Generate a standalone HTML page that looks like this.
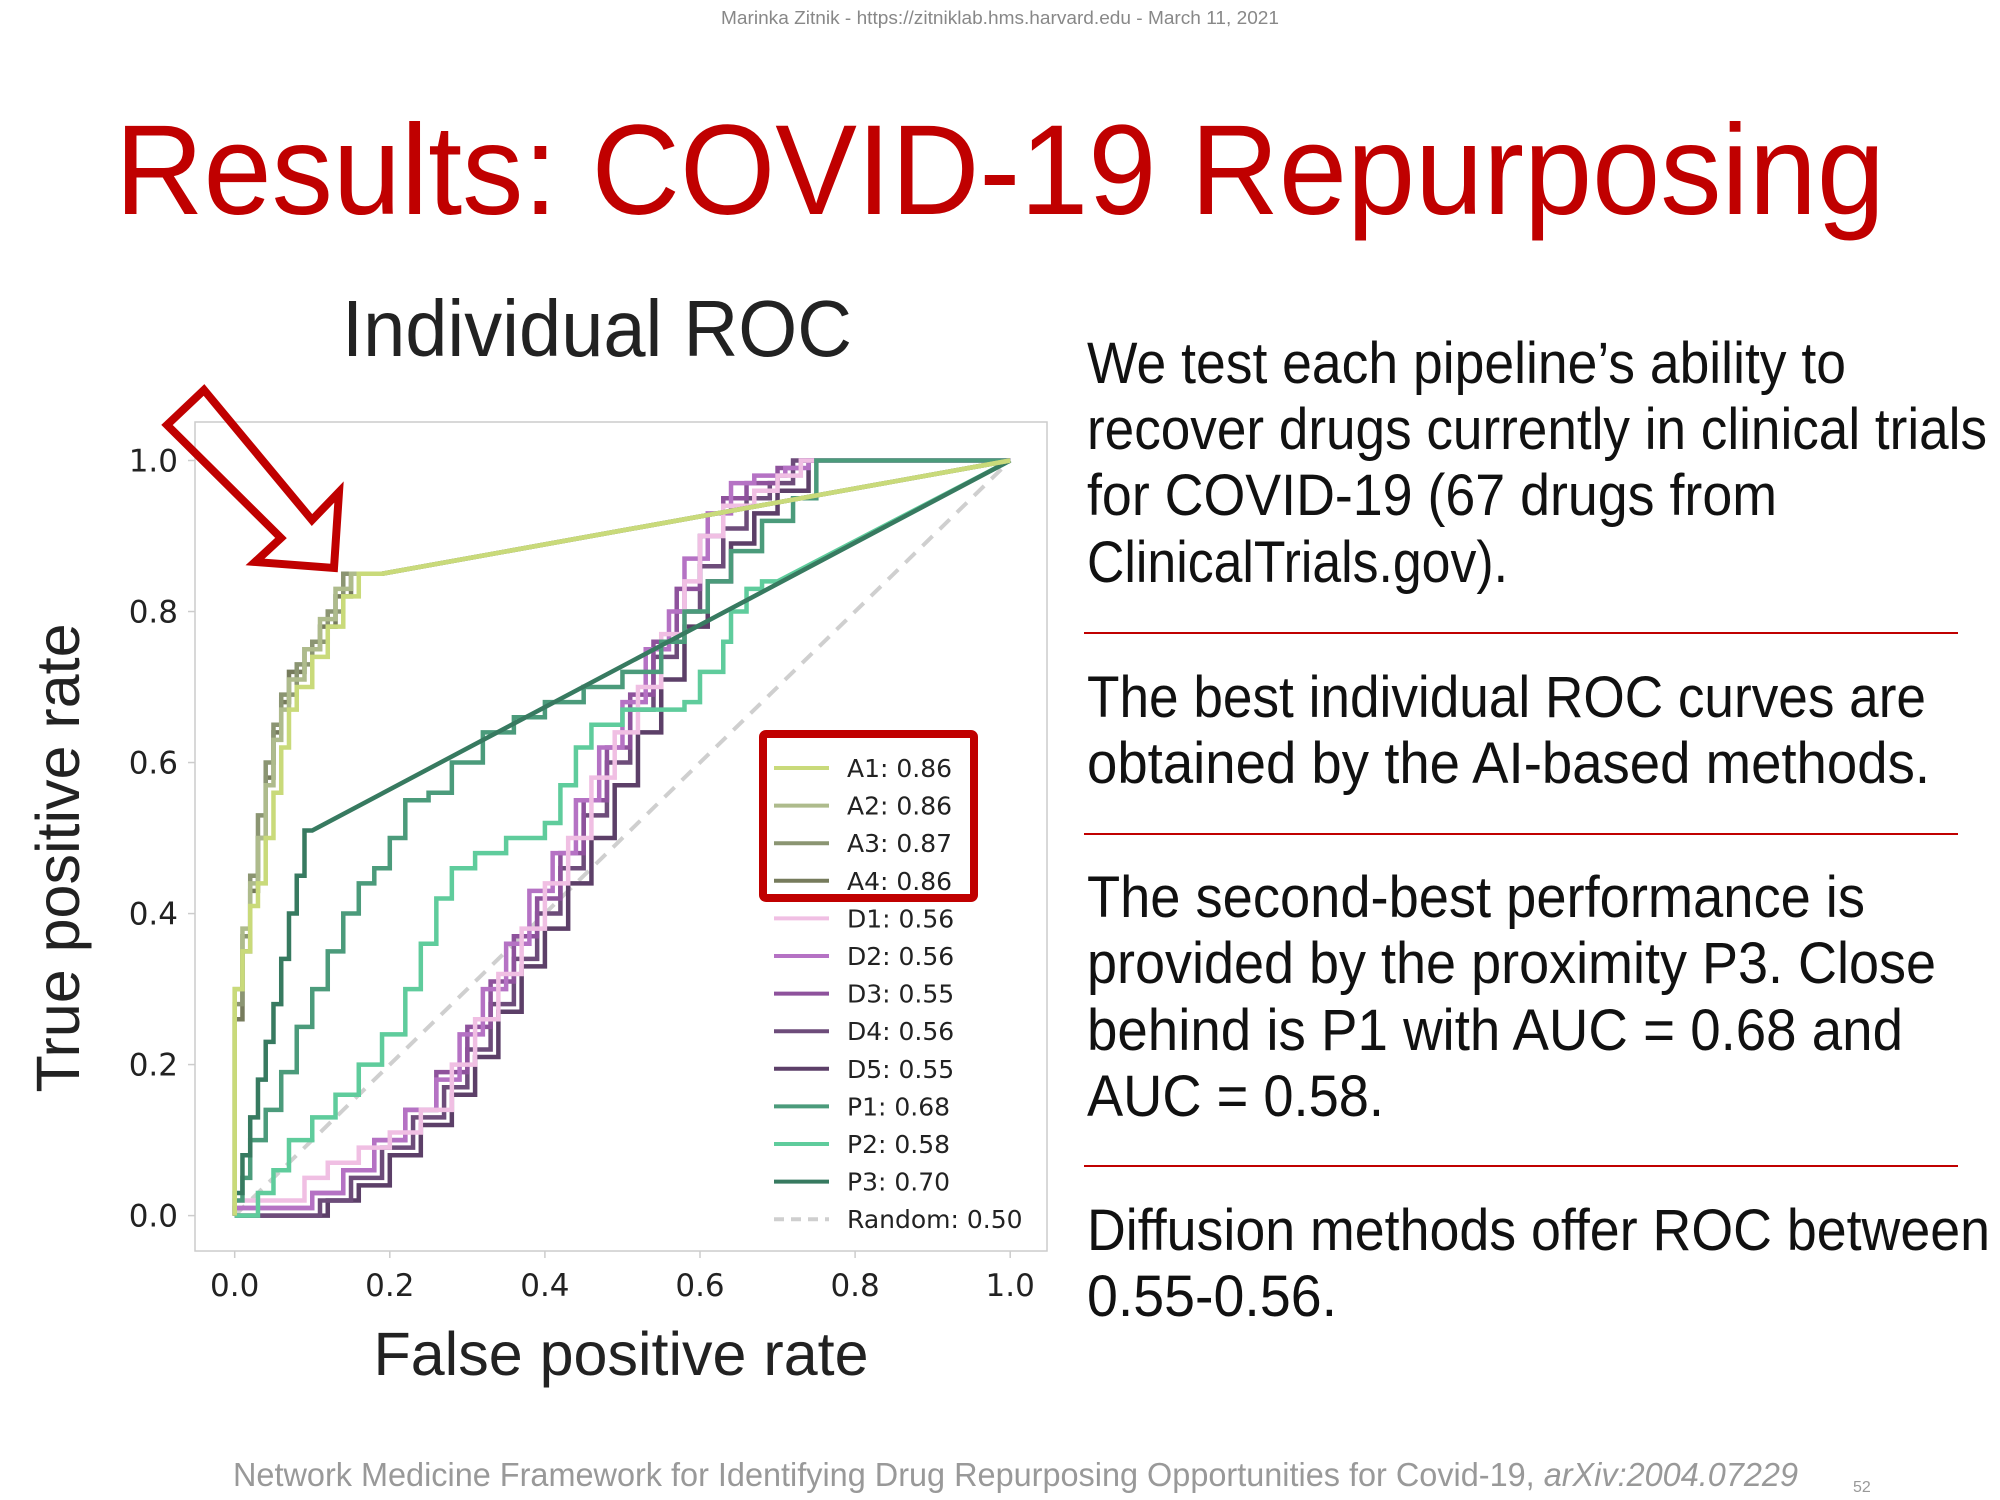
<!DOCTYPE html>
<html><head><meta charset="utf-8"><style>
html,body{margin:0;padding:0;background:#fff;}
svg{display:block;}
text{font-family:"Liberation Sans",sans-serif;}
text.dv{font-family:"DejaVu Sans",sans-serif;}
</style></head>
<body>
<svg id="slide" width="2000" height="1500" viewBox="0 0 2000 1500" xmlns="http://www.w3.org/2000/svg">
<text x="1000" y="24" font-size="18" fill="#888" text-anchor="middle" textLength="558" lengthAdjust="spacingAndGlyphs">Marinka Zitnik - https://zitniklab.hms.harvard.edu - March 11, 2021</text>
<text x="115" y="214" font-size="128" fill="#c00000" textLength="1770" lengthAdjust="spacingAndGlyphs">Results: COVID-19 Repurposing</text>
<text x="342" y="356" font-size="80" fill="#222" textLength="510" lengthAdjust="spacingAndGlyphs">Individual ROC</text>

<g font-size="58" fill="#111">
<text x="1087" y="383" textLength="759" lengthAdjust="spacingAndGlyphs">We test each pipeline’s ability to</text>
<text x="1087" y="449" textLength="900" lengthAdjust="spacingAndGlyphs">recover drugs currently in clinical trials</text>
<text x="1087" y="515" textLength="690" lengthAdjust="spacingAndGlyphs">for COVID-19 (67 drugs from</text>
<text x="1087" y="582" textLength="421" lengthAdjust="spacingAndGlyphs">ClinicalTrials.gov).</text>
<text x="1087" y="717" textLength="839" lengthAdjust="spacingAndGlyphs">The best individual ROC curves are</text>
<text x="1087" y="783" textLength="843" lengthAdjust="spacingAndGlyphs">obtained by the AI-based methods.</text>
<text x="1087" y="917" textLength="778" lengthAdjust="spacingAndGlyphs">The second-best performance is</text>
<text x="1087" y="983" textLength="849" lengthAdjust="spacingAndGlyphs">provided by the proximity P3. Close</text>
<text x="1087" y="1050" textLength="816" lengthAdjust="spacingAndGlyphs">behind is P1 with AUC = 0.68 and</text>
<text x="1087" y="1116" textLength="297" lengthAdjust="spacingAndGlyphs">AUC = 0.58.</text>
<text x="1087" y="1250" textLength="903" lengthAdjust="spacingAndGlyphs">Diffusion methods offer ROC between</text>
<text x="1087" y="1316" textLength="250" lengthAdjust="spacingAndGlyphs">0.55-0.56.</text>
</g>
<line x1="1084" y1="633" x2="1958" y2="633" stroke="#c00000" stroke-width="2"/>
<line x1="1084" y1="834" x2="1958" y2="834" stroke="#c00000" stroke-width="2"/>
<line x1="1084" y1="1166" x2="1958" y2="1166" stroke="#c00000" stroke-width="2"/>

<text x="233" y="1486" font-size="33" fill="#999" textLength="1565" lengthAdjust="spacingAndGlyphs">Network Medicine Framework for Identifying Drug Repurposing Opportunities for Covid-19, <tspan font-style="italic">arXiv:2004.07229</tspan></text>
<text x="1853" y="1492" font-size="16" fill="#999">52</text>

<g id="chart"></g>

<polygon points="167,425 204,390 312,520 339,492 334,568 255,562 281,538" fill="none" stroke="#c00000" stroke-width="8" stroke-linejoin="miter"/>
</svg>
<script>
const categories = ["A1","A2","A3","A4","D1","D2","D3","D4","D5","P1","P2","P3"];
const aucLabels = ["0.86","0.86","0.87","0.86","0.56","0.56","0.55","0.56","0.55","0.68","0.58","0.70"];
const colors = ["#c9da7a","#aebb8c","#8b9572","#767b5c","#f0bfe3","#b572c4","#8e529c","#6d4c7a","#5c3f68","#4b9b7b","#5fcc9c","#377a60"];
const xTicks = [0.0,0.2,0.4,0.6,0.8,1.0];
const yTicks = [0.0,0.2,0.4,0.6,0.8,1.0];
const fprA1 = [0,0,0.01,0.02,0.03,0.04,0.05,0.06,0.07,0.08,0.10,0.12,0.14,0.16,0.18,0.19,1];
const tprA1 = [0,0.2,0.3,0.35,0.41,0.44,0.5,0.56,0.62,0.67,0.70,0.74,0.78,0.82,0.85,0.85,1];
const fprA2 = [0,0,0.01,0.02,0.03,0.04,0.05,0.06,0.07,0.09,0.11,0.13,0.15,0.17,0.19,1];
const tprA2 = [0,0.22,0.3,0.38,0.44,0.5,0.57,0.63,0.67,0.71,0.75,0.79,0.83,0.85,0.85,1];
const fprA3 = [0,0,0.01,0.02,0.03,0.04,0.05,0.06,0.08,0.10,0.12,0.14,0.16,0.19,1];
const tprA3 = [0,0.18,0.28,0.37,0.45,0.53,0.6,0.65,0.69,0.73,0.76,0.8,0.85,0.85,1];
const fprA4 = [0,0,0.01,0.02,0.03,0.04,0.05,0.06,0.07,0.09,0.11,0.13,0.15,0.17,0.19,1];
const tprA4 = [0,0.15,0.26,0.35,0.43,0.5,0.58,0.64,0.68,0.72,0.75,0.78,0.82,0.85,0.85,1];
const fprD1 = [0,0.09,0.12,0.16,0.2,0.24,0.28,0.31,0.34,0.37,0.4,0.43,0.46,0.49,0.52,0.55,0.58,0.6,0.63,0.67,0.7,0.73,0.76,0.78,1];
const tprD1 = [0,0.02,0.05,0.07,0.09,0.11,0.14,0.2,0.26,0.32,0.38,0.44,0.5,0.58,0.64,0.7,0.77,0.84,0.9,0.94,0.96,0.98,1,1,1];
const fprD2 = [0,0.1,0.14,0.18,0.22,0.26,0.29,0.32,0.35,0.38,0.41,0.44,0.47,0.5,0.53,0.56,0.58,0.61,0.64,0.67,0.71,0.74,0.77,0.78,1];
const tprD2 = [0,0.01,0.03,0.06,0.1,0.14,0.18,0.24,0.3,0.36,0.43,0.48,0.55,0.62,0.68,0.75,0.8,0.87,0.93,0.97,0.98,0.99,1,1,1];
const fprD3 = [0,0.1,0.14,0.18,0.22,0.26,0.3,0.33,0.36,0.39,0.42,0.45,0.48,0.51,0.54,0.57,0.6,0.63,0.66,0.7,0.73,0.77,0.78,1];
const tprD3 = [0,0.01,0.03,0.06,0.1,0.14,0.19,0.25,0.31,0.37,0.42,0.48,0.55,0.62,0.69,0.76,0.83,0.9,0.95,0.97,0.99,1,1,1];
const fprD4 = [0,0.11,0.15,0.19,0.23,0.27,0.3,0.33,0.36,0.39,0.42,0.45,0.48,0.51,0.54,0.57,0.6,0.63,0.66,0.69,0.72,0.76,0.78,1];
const tprD4 = [0,0,0.02,0.05,0.09,0.13,0.17,0.22,0.28,0.34,0.4,0.46,0.53,0.6,0.67,0.74,0.8,0.86,0.91,0.95,0.97,1,1,1];
const fprD5 = [0,0.12,0.16,0.2,0.24,0.28,0.31,0.34,0.37,0.4,0.43,0.46,0.49,0.52,0.55,0.58,0.61,0.64,0.67,0.7,0.74,0.77,0.78,1];
const tprD5 = [0,0,0.02,0.04,0.08,0.12,0.16,0.21,0.27,0.33,0.38,0.44,0.5,0.57,0.64,0.71,0.78,0.84,0.89,0.93,0.96,1,1,1];
const fprP1 = [0,0.01,0.02,0.04,0.06,0.08,0.1,0.12,0.14,0.16,0.18,0.2,0.22,0.25,0.28,0.32,0.36,0.4,0.45,0.5,0.55,0.58,0.61,0.64,0.68,0.72,0.75,0.76,0.77,1];
const tprP1 = [0,0.02,0.05,0.1,0.14,0.19,0.25,0.3,0.35,0.4,0.44,0.46,0.5,0.55,0.56,0.6,0.64,0.66,0.68,0.7,0.72,0.76,0.8,0.84,0.88,0.92,0.95,1,1,1];
const fprP2 = [0,0.03,0.05,0.07,0.1,0.13,0.16,0.19,0.22,0.24,0.26,0.28,0.31,0.35,0.4,0.42,0.44,0.46,0.5,0.55,0.58,0.6,0.63,0.64,0.66,0.68,0.7,1];
const tprP2 = [0,0,0.03,0.06,0.1,0.13,0.16,0.2,0.24,0.3,0.36,0.42,0.46,0.48,0.5,0.52,0.57,0.62,0.65,0.67,0.67,0.68,0.72,0.76,0.8,0.83,0.84,1];
const fprP3 = [0,0.01,0.02,0.03,0.04,0.05,0.06,0.07,0.08,0.09,0.1,1];
const tprP3 = [0,0.03,0.08,0.13,0.18,0.23,0.28,0.34,0.4,0.45,0.51,1];
const fprAll = [fprA1,fprA2,fprA3,fprA4,fprD1,fprD2,fprD3,fprD4,fprD5,fprP1,fprP2,fprP3];
const tprAll = [tprA1,tprA2,tprA3,tprA4,tprD1,tprD2,tprD3,tprD4,tprD5,tprP1,tprP2,tprP3];

const NS = "http://www.w3.org/2000/svg";
const X0 = 234.7, X1 = 1010.2, Y0 = 1215.6, Y1 = 460.5;
function xs(v){ return X0 + v*(X1-X0); }
function ys(v){ return Y0 - v*(Y0-Y1); }
const g = document.getElementById('chart');
function mk(tag, attrs){ const e = document.createElementNS(NS, tag); for (const k in attrs) e.setAttribute(k, attrs[k]); g.appendChild(e); return e; }

const frame = mk('rect',{x:195,y:422,width:852,height:829,fill:'none',stroke:'#ccc','stroke-width':1.5});



xTicks.forEach(function(t){
  const tk = mk('line',{x1:xs(t),x2:xs(t),y1:1251,y2:1258,stroke:'#ccc','stroke-width':1.5});
  
  
  const lb = mk('text',{x:xs(t),y:1296,'font-size':31,fill:'#222','text-anchor':'middle','class':'dv'});
  lb.textContent = t.toFixed(1);
  
  
});
yTicks.forEach(function(t){
  const tk = mk('line',{x1:188,x2:195,y1:ys(t),y2:ys(t),stroke:'#ccc','stroke-width':1.5});
  
  
  const lb = mk('text',{x:178,y:ys(t)+11,'font-size':31,fill:'#222','text-anchor':'end','class':'dv'});
  lb.textContent = t.toFixed(1);
  
  
});
const xl = mk('text',{x:621,y:1375,'font-size':61,fill:'#222','text-anchor':'middle'});
xl.textContent = 'False positive rate';


const yl = mk('text',{x:0,y:0,'font-size':61,fill:'#222','text-anchor':'middle',transform:'translate(79,858) rotate(-90)'});
yl.textContent = 'True positive rate';



const rnd = mk('line',{x1:xs(0),y1:ys(0),x2:xs(1),y2:ys(1),stroke:'#cfcfcf','stroke-width':4,'stroke-dasharray':'14,10'});



const order = [8,7,6,5,4,10,9,11,3,2,1,0];
order.forEach(function(i){
  const fx = fprAll[i], ty = tprAll[i];
  let d = 'M' + xs(fx[0]) + ',' + ys(ty[0]);
  for (let k = 1; k < fx.length; k++) {
    if (fx[k]-fx[k-1] > 0.1) d += ' L' + xs(fx[k]) + ',' + ys(ty[k]);
    else d += ' L' + xs(fx[k-1]) + ',' + ys(ty[k]) + ' L' + xs(fx[k]) + ',' + ys(ty[k]);
  }
  const p = mk('path',{d:d,fill:'none',stroke:colors[i],'stroke-width':4.5,'stroke-linejoin':'miter'});
  
  
});

const legNames = categories.concat(['Random']);
const legVals = aucLabels.concat(['0.50']);
legNames.forEach(function(n, i){
  const y = 768 + i*37.6;
  const ln = mk('line',{x1:774,x2:829,y1:y,y2:y,stroke: i<12 ? colors[i] : '#cfcfcf','stroke-width':4,'stroke-dasharray': i<12 ? 'none' : '10,7'});
  
  
  const t = mk('text',{x:847,y:y+9,'font-size':25,fill:'#222','class':'dv'});
  t.textContent = n + ': ' + legVals[i];
  
  
});
const hb = mk('rect',{x:763,y:734,width:211,height:164,fill:'none',stroke:'#c00000','stroke-width':8,rx:3});


</script>
</body></html>
